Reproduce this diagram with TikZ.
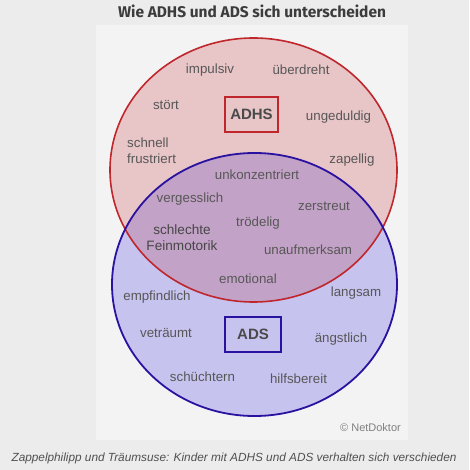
\documentclass[tikz,border=0pt]{standalone}
\usepackage{fontspec}
\setmainfont{Liberation Sans}
\newfontfamily\titlefont{Fira Sans}
\definecolor{outerbg}{HTML}{ECECEC}
\definecolor{panelbg}{HTML}{F3F3F3}
\definecolor{redfill}{HTML}{E8C5C7}
\definecolor{bluefill}{HTML}{C6C3EF}
\definecolor{overlapfill}{HTML}{C3A2C7}
\definecolor{redline}{HTML}{C0272D}
\definecolor{blueline}{HTML}{2A12A0}
\definecolor{txtgray}{HTML}{575757}
\definecolor{titlegray}{HTML}{3C3C3C}
\begin{document}
\begin{tikzpicture}[x=1pt,y=-1pt,
  word/.style={text=txtgray, font=\fontsize{13.3}{15.5}\selectfont, inner sep=0pt, align=center},
  tagbox/.style={draw, line width=1.6pt, font=\bfseries\fontsize{15}{17}\selectfont, text=txtgray!85!black, minimum height=35pt, inner sep=0pt}]
\fill[outerbg] (0,0) rectangle (469,470);
\useasboundingbox (0,0) rectangle (469,470);
\fill[panelbg] (96,25) rectangle (408,440);
% ellipses
\fill[redfill] (253.5,170) ellipse [x radius=143.5, y radius=132];
\fill[bluefill] (254.5,284.5) ellipse [x radius=142.5, y radius=131.5];
\begin{scope}
  \clip (253.5,170) ellipse [x radius=143.5, y radius=132];
  \fill[overlapfill] (254.5,284.5) ellipse [x radius=142.5, y radius=131.5];
\end{scope}
\draw[redline, line width=1.6pt] (253.5,170) ellipse [x radius=143.5, y radius=132];
\draw[blueline, line width=1.8pt] (254.5,284.5) ellipse [x radius=142.5, y radius=131.5];
% title
\node[font=\titlefont\bfseries\fontsize{15.5}{18}\selectfont, text=titlegray] (title) at (252,11) {Wie ADHS und ADS sich unterscheiden};
% labels
\node[tagbox, draw=redline, minimum width=53pt] (adhs) at (251.5,114.5) {ADHS};
\node[tagbox, draw=blueline, minimum width=56pt] (ads) at (253,334.5) {ADS};
% ADHS words
\node[word] (impulsiv) at (210,70) {impulsiv};
\node[word] (ueberdreht) at (301,70) {überdreht};
\node[word] (stoert) at (166,105) {stört};
\node[word] (ungeduldig) at (338.5,117) {ungeduldig};
\node[word, align=left, anchor=west] (schnell) at (127,150.5) {schnell\\frustriert};
\node[word] (zapellig) at (352,160) {zapellig};
% common words
\node[word] (unkonz) at (257,175) {unkonzentriert};
\node[word] (vergess) at (190,199) {vergesslich};
\node[word] (zerstreut) at (324,206) {zerstreut};
\node[word] (troedelig) at (258,223) {trödelig};
\node[word, text=txtgray!80!black, font=\fontsize{13.6}{16}\selectfont] (fein) at (182,238) {schlechte\\Feinmotorik};
\node[word] (unaufm) at (308,250) {unaufmerksam};
\node[word] (emotional) at (248,279) {emotional};
% ADS words
\node[word] (empf) at (157,297) {empfindlich};
\node[word] (langsam) at (356,293) {langsam};
\node[word] (vetr) at (166,333) {veträumt};
\node[word] (aengst) at (341,339) {ängstlich};
\node[word] (schuecht) at (202.5,377) {schüchtern};
\node[word] (hilfs) at (298.5,379) {hilfsbereit};
% credit and caption
\node[text=gray, font=\fontsize{11}{13}\selectfont, inner sep=0pt] (credit) at (370.5,428) {© NetDoktor};
\node[text=titlegray!90, font=\itshape\fontsize{11.8}{14}\selectfont, inner sep=0pt] (caption) at (234,458) {Zappelphilipp und Träumsuse: Kinder mit ADHS und ADS verhalten sich verschieden};
\end{tikzpicture}
\end{document}
